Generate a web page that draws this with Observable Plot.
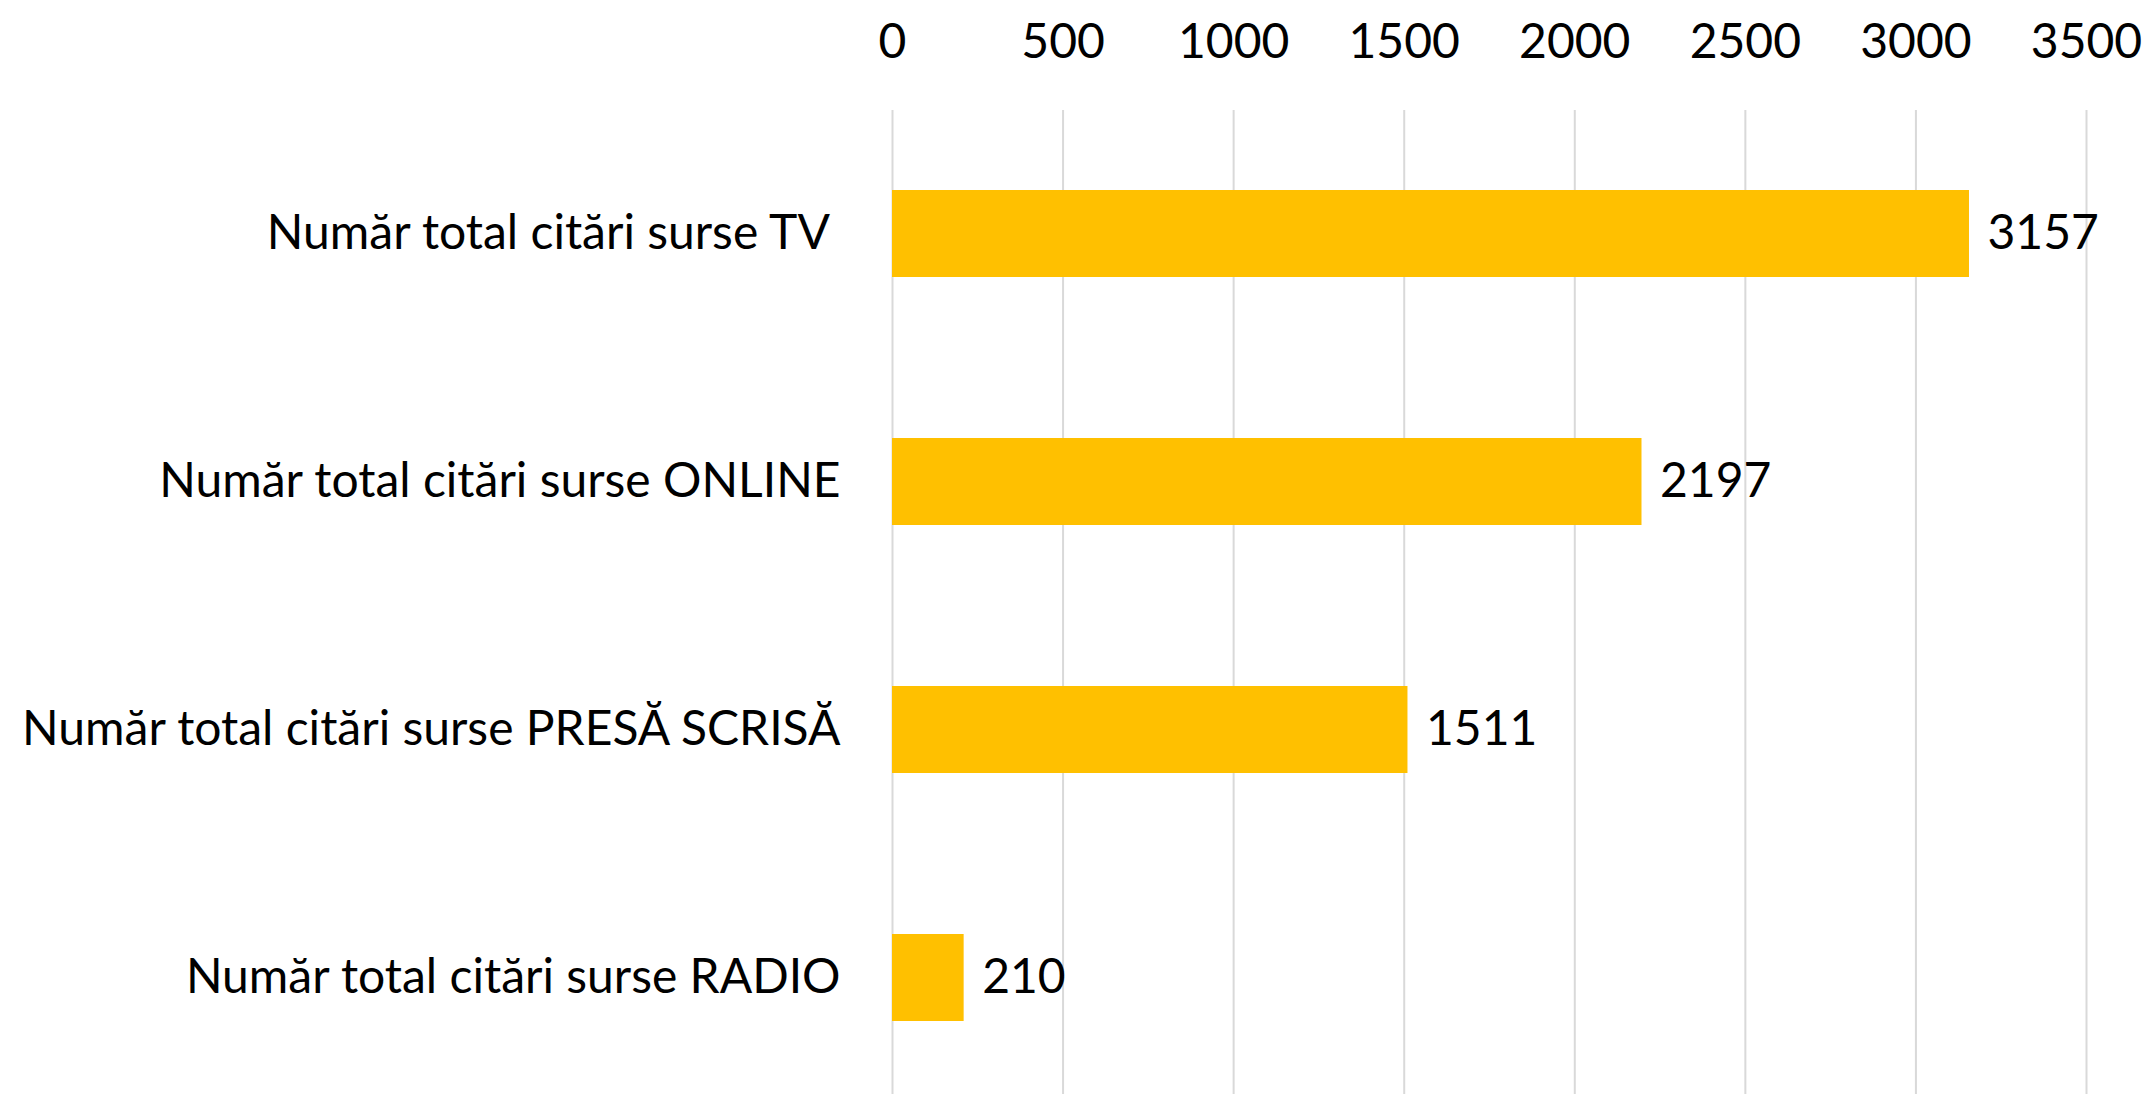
<!DOCTYPE html>
<html>
<head>
<meta charset="utf-8">
<script src="https://cdn.jsdelivr.net/npm/d3@7"></script>
<script src="https://cdn.jsdelivr.net/npm/@observablehq/plot@0.6"></script>
<style>
  html, body { margin: 0; padding: 0; background: #ffffff; }
  #chart svg { display: block; }
  #chart text { white-space: pre; }
</style>
</head>
<body>
<div id="chart"></div>
<script>
const categories = [
  "Număr total citări surse TV\u00A0",
  "Număr total citări surse ONLINE",
  "Număr total citări surse PRESĂ SCRISĂ",
  "Număr total citări surse RADIO"
];
const values = [3157, 2197, 1511, 210];
const xTicks = [0, 500, 1000, 1500, 2000, 2500, 3000, 3500];

const data = categories.map((c, i) => ({category: c, value: values[i]}));

const FONT = "Lato, 'Open Sans', sans-serif";
const FS = 48;

const chart = Plot.plot({
  width: 2148,
  height: 1094,
  marginLeft: 892,
  marginRight: 62,
  marginTop: 110,
  marginBottom: 0,
  style: {fontFamily: FONT, fontSize: FS + "px", color: "#000000", background: "#ffffff"},
  x: {domain: [0, 3500]},
  y: {domain: categories, range: [109, 1101], paddingInner: 0.65, paddingOuter: 0.325},
  marks: [
    Plot.gridX(xTicks, {stroke: "#D9D9D9", strokeOpacity: 1, strokeWidth: 2}),
    Plot.axisX({anchor: "top", ticks: xTicks, tickFormat: d => String(d), tickSize: 0, tickPadding: 53, label: null, fontSize: FS, fill: "#000000"}),
    Plot.axisY({anchor: "left", tickSize: 0, tickPadding: 52, label: null, fontSize: FS, fill: "#000000"}),
    Plot.barX(data, {x: "value", y: "category", fill: "#FFC000"}),
    Plot.text(data, {x: "value", y: "category", text: d => String(d.value), textAnchor: "start", dx: 18, fontSize: FS, fill: "#000000"})
  ]
});
document.getElementById("chart").appendChild(chart);
</script>
</body>
</html>
